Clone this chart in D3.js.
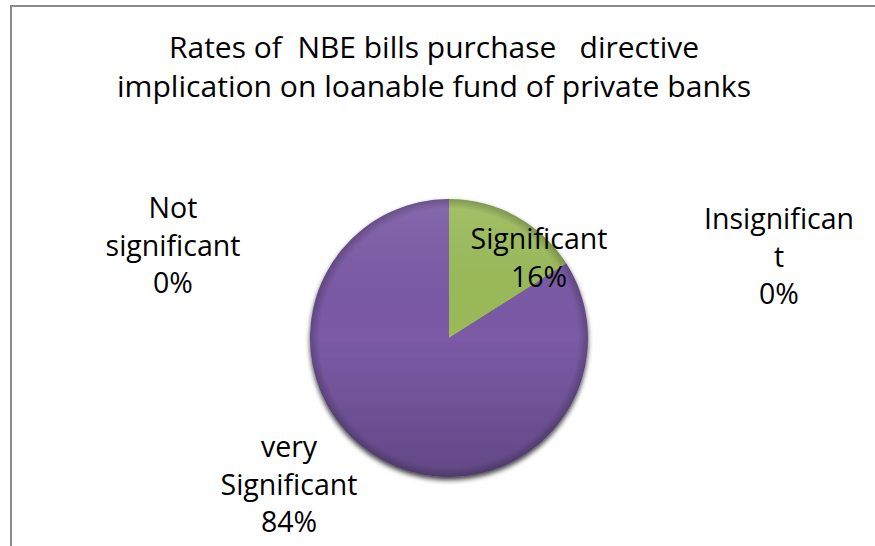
<!DOCTYPE html>
<html><head><meta charset="utf-8">
<script src="https://cdn.jsdelivr.net/npm/d3@7"></script>
<style>body{margin:0;background:#fff}svg{display:block}text{font-family:"Open Sans",Lato,sans-serif;fill:#000;font-variant-ligatures:none}</style>
</head><body>
<svg id="c" width="875" height="546"></svg>
<script>
// data
const categories = ["Insignificant", "Significant", "very Significant", "Not significant"];
const values = [0, 16, 84, 0];
const labelLines = [["Insignifican", "t", "0%"], ["Significant", "16%"], ["very", "Significant", "84%"], ["Not", "significant", "0%"]];
const titleLines = ["Rates of  NBE bills purchase   directive", "implication on loanable fund of private banks"];
const colors = ["#4BACC6", "#9BBB59", "#7B5AA6", "#C0504D"];
// layout (label anchor of first baseline)
const labelAt = [[779, 229], [539, 249], [289, 457], [173, 218]];

const svg = d3.select("#c");
svg.append("path").attr("d", "M11,546V6H875").attr("fill", "none").attr("stroke", "#8a8a8a").attr("stroke-width", 2);

svg.append("g").selectAll("text").data(titleLines).join("text")
  .attr("x", 434).attr("y", (d, i) => 58 + i * 39).attr("text-anchor", "middle")
  .attr("font-size", 30).attr("textLength", (d, i) => i ? 634 : 530).attr("lengthAdjust", "spacingAndGlyphs")
  .style("white-space", "pre").text(d => d);

const cx = 449, cy = 338, r = 139;
const defs = svg.append("defs");
const f = defs.append("filter").attr("id", "sh").attr("x", "-20%").attr("y", "-20%").attr("width", "140%").attr("height", "150%");
f.append("feGaussianBlur").attr("in", "SourceAlpha").attr("stdDeviation", 2.5);
f.append("feOffset").attr("dx", 0).attr("dy", 3).attr("result", "b");
f.append("feComponentTransfer").append("feFuncA").attr("type", "linear").attr("slope", 0.75);
const m = f.append("feMerge"); m.append("feMergeNode"); m.append("feMergeNode").attr("in", "SourceGraphic");

const sh = defs.append("linearGradient").attr("id", "shade").attr("x1", 0).attr("y1", -r).attr("x2", 0).attr("y2", r).attr("gradientUnits", "userSpaceOnUse");
sh.append("stop").attr("offset", 0).attr("stop-color", "#fff").attr("stop-opacity", 0.1);
sh.append("stop").attr("offset", 0.5).attr("stop-color", "#000").attr("stop-opacity", 0);
sh.append("stop").attr("offset", 1).attr("stop-color", "#000").attr("stop-opacity", 0.2);
const bev2 = defs.append("radialGradient").attr("id", "bev2").attr("cx", 0).attr("cy", 0).attr("r", r).attr("gradientUnits", "userSpaceOnUse");
bev2.append("stop").attr("offset", 0.93).attr("stop-color", "#000").attr("stop-opacity", 0);
bev2.append("stop").attr("offset", 1).attr("stop-color", "#000").attr("stop-opacity", 0.22);

const pie = d3.pie().sort(null).value(d => d)(values);
const arc = d3.arc().innerRadius(0).outerRadius(r);
const pg = svg.append("g").attr("transform", `translate(${cx},${cy})`).attr("filter", "url(#sh)");
pg.selectAll("path.p").data(pie).join("path").attr("class", "p")
  .attr("d", arc).attr("fill", (d, i) => colors[i]);
pg.selectAll("path.s").data(pie).join("path").attr("class", "s").attr("d", arc)
  .attr("fill", "url(#shade)");
pg.append("circle").attr("r", r).attr("fill", "url(#bev2)");

const lg = svg.append("g");
categories.forEach((c, i) => {
  const t = lg.append("text").attr("text-anchor", "middle").attr("font-size", 28.5);
  labelLines[i].forEach((l, j) => t.append("tspan").attr("x", labelAt[i][0]).attr("y", labelAt[i][1] + j * 37.5).text(l));
});
</script>
</body></html>
